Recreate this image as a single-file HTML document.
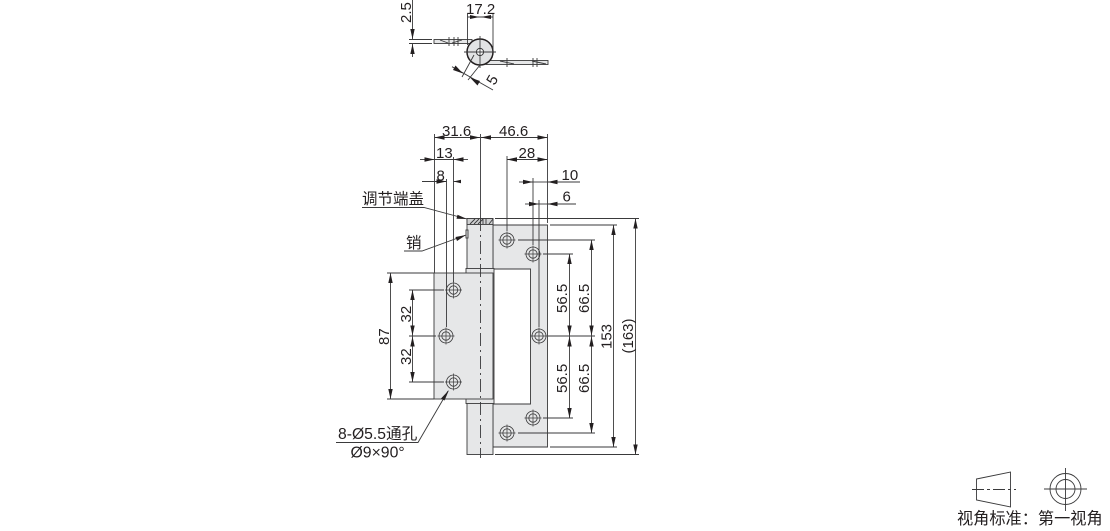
<!DOCTYPE html>
<html><head><meta charset="utf-8"><style>
html,body{margin:0;padding:0;background:#fff}
svg{display:block}
text{font-family:"Liberation Sans","Noto Sans CJK SC",sans-serif;fill:#231f20;font-size:15px}
.d{stroke:#3a3a3b;stroke-width:.9;fill:none}
.g{stroke:#3a3a3b;stroke-width:.9;fill:#e6e7e8}
.a{fill:#231f20;stroke:none}
.c{stroke:#3a3a3b;stroke-width:.9;fill:none;stroke-dasharray:13 4 2 4}
</style></head><body>
<svg width="1110" height="531" viewBox="0 0 1110 531" xmlns="http://www.w3.org/2000/svg">
<defs>
<marker id="m" viewBox="0 0 10 5" refX="10" refY="2.5" markerWidth="10" markerHeight="5" orient="auto-start-reverse" markerUnits="userSpaceOnUse"><path d="M0 .3L10 2.5L0 4.7z" fill="#231f20"/></marker>
<g id="h"><circle r="7" fill="none" stroke="#3a3a3b" stroke-width=".8"/><circle r="4.2" fill="none" stroke="#3a3a3b" stroke-width=".8"/><path d="M-8.5 0H8.5M0-8.5V8.5" stroke="#3a3a3b" stroke-width=".7"/></g>
</defs>

<!-- top view -->
<rect x="434" y="39.500" width="38" height="4" class="g"/>
<rect x="486" y="60.500" width="62" height="4" class="g"/>
<circle cx="480" cy="52" r="13" fill="#e2e3e4" stroke="#231f20" stroke-width="1.5"/>
<circle cx="480" cy="52" r="3.600" fill="#fff" stroke="#3a3a3b"/>
<path class="d" d="M464 52H496M480 36V68M467.500 14V45M493 14V52M409 39.500H432M409 43.500H432M454 37V46M449 37V46M458 37V46M507 58V67M533 58V67M537 58V67M440 40L448 43M462 40L452 43M500 61L514 64M532 61L546 64"/>
<path class="d" d="M467.500 17H493"/>
<path class="a" d="M479.500 17L470 15V19zM481 17L491 15V19z"/>
<path class="d" d="M412.500 0V39" marker-end="url(#m)"/>
<path class="d" d="M412.500 57V44" marker-end="url(#m)"/>
<path class="d" d="M474 55L462 77M480 65L468 80M452 66.700L493 90"/>
<path class="a" d="M463 73.500L453 70L455.500 65.500zM470 77.500L480 81L477.500 85.500z"/>
<text x="466" y="14">17.2</text>
<text transform="translate(411,23) rotate(-90)">2.5</text>
<text transform="translate(494.500,86) rotate(-60)">5</text>

<!-- body -->
<path class="g" d="M493 225H547.500V447H493V404H530.500V269H493z"/>
<rect x="467" y="218.500" width="26" height="236" class="g"/>
<rect x="467" y="218.500" width="26" height="6" fill="#cfd0d1" stroke="#3a3a3b" stroke-width=".9"/>
<path d="M470 224L475 219M474 224L479 219M478 224L483 219M483 219V224M486 219V224M489 224L493 219" stroke="#3a3a3b" stroke-width=".9"/>
<rect x="466" y="268.500" width="28" height="135" class="g"/>
<rect x="434" y="273" width="59" height="126" class="g"/>
<rect x="466" y="230" width="2" height="8" class="g"/>
<path class="c" d="M480.500 218V458"/>

<!-- holes -->
<use href="#h" x="453.500" y="290"/>
<use href="#h" x="446" y="336"/>
<use href="#h" x="453.500" y="382"/>
<use href="#h" x="507" y="240"/>
<use href="#h" x="533" y="254"/>
<use href="#h" x="539" y="336"/>
<use href="#h" x="533" y="418"/>
<use href="#h" x="507" y="433"/>

<!-- top dims -->
<path class="d" d="M434.500 134V273M480.500 134V218M547.500 134V223M453.500 157V282M446.500 179V327M507 156V231M533 178V245M539 200V327"/>
<path class="d" d="M434.500 137.500H480" marker-start="url(#m)" marker-end="url(#m)"/>
<path class="d" d="M481 137.500H547.500" marker-start="url(#m)" marker-end="url(#m)"/>
<path class="d" d="M420 159.500H434.500" marker-end="url(#m)"/>
<path class="d" d="M468 159.500H453.500" marker-end="url(#m)"/>
<path class="d" d="M434.500 159.500H453.500"/>
<path class="d" d="M422 181.500H446.500" marker-end="url(#m)"/>
<path class="d" d="M461 181.500H453.500"/>
<path class="a" d="M453.500 181.500L461 179.700V183.300z"/>
<path class="d" d="M507 159.500H547.500" marker-start="url(#m)" marker-end="url(#m)"/>
<path class="d" d="M519 182H533" marker-end="url(#m)"/>
<path class="d" d="M580 182H547.500" marker-end="url(#m)"/>
<path class="d" d="M533 182H547.500"/>
<path class="d" d="M525 204H539" marker-end="url(#m)"/>
<path class="d" d="M576 204H547.500" marker-end="url(#m)"/>
<path class="d" d="M539 204H547.500"/>
<text x="442" y="136">31.6</text>
<text x="499" y="136">46.6</text>
<text x="436" y="158">13</text>
<text x="436.500" y="180.500">8</text>
<text x="518.500" y="158">28</text>
<text x="561.500" y="180">10</text>
<text x="562.500" y="201.500">6</text>

<!-- right dims -->
<path class="d" d="M495 218.500H639M495 454.500H639M550 225H617M550 447H617M518 240H595M518 433H595M543 254H573M543 418H573M548 336H595"/>
<path class="d" d="M569.500 254V335.500" marker-start="url(#m)" marker-end="url(#m)"/>
<path class="d" d="M569.500 336.500V418" marker-start="url(#m)" marker-end="url(#m)"/>
<path class="d" d="M591.500 240V335.500" marker-start="url(#m)" marker-end="url(#m)"/>
<path class="d" d="M591.500 336.500V433" marker-start="url(#m)" marker-end="url(#m)"/>
<path class="d" d="M613.500 225V447" marker-start="url(#m)" marker-end="url(#m)"/>
<path class="d" d="M635.500 218.500V454.500" marker-start="url(#m)" marker-end="url(#m)"/>
<text transform="translate(567,313) rotate(-90)">56.5</text>
<text transform="translate(589,313) rotate(-90)">66.5</text>
<text transform="translate(567,393) rotate(-90)">56.5</text>
<text transform="translate(589,393) rotate(-90)">66.5</text>
<text transform="translate(611.500,349) rotate(-90)">153</text>
<text transform="translate(633,353.500) rotate(-90)">(163)</text>

<!-- left dims -->
<path class="d" d="M387 273H434M387 399H434M409 290H444M409 336H436M409 382H444"/>
<path class="d" d="M390.500 273V399" marker-start="url(#m)" marker-end="url(#m)"/>
<path class="d" d="M412.500 290V335.500" marker-start="url(#m)" marker-end="url(#m)"/>
<path class="d" d="M412.500 336.500V382" marker-start="url(#m)" marker-end="url(#m)"/>
<text transform="translate(389,345) rotate(-90)">87</text>
<text transform="translate(411,322.500) rotate(-90)">32</text>
<text transform="translate(411,365) rotate(-90)">32</text>

<!-- leaders -->
<path class="d" d="M362 207.500H424L467 219"/>
<path class="a" d="M467 219L456.500 218.800L457.500 214.800z"/>
<path class="d" d="M404 251H422L466 235"/>
<path class="a" d="M466 235L457 241L455.500 237z"/>
<text x="362" y="204" style="font-size:15.500px">调节端盖</text>
<text x="406" y="248" style="font-size:15.500px">销</text>
<path class="d" d="M336 442.500H418L448 391"/>
<path class="a" d="M449 390L444.500 400.500L441 398.500z"/>
<text x="338" y="439" style="font-size:15.700px">8-Ø5.5通孔</text>
<text x="350.500" y="457.500" style="font-size:15.800px">Ø9×90°</text>

<!-- projection symbol -->
<path class="d" d="M976.500 479L1010.500 472V507L976.500 500z"/>
<path d="M972 489.500H1016" stroke="#3a3a3b" stroke-width=".9" stroke-dasharray="12 3 3 3" fill="none"/>
<circle cx="1065.500" cy="489" r="15.500" class="d"/>
<circle cx="1065.500" cy="489" r="9.500" class="d"/>
<path class="d" d="M1044 489H1087M1065.500 468V511"/>
<text x="957" y="524" style="font-size:16.200px">视角标准：第一视角</text>
</svg>
</body></html>
